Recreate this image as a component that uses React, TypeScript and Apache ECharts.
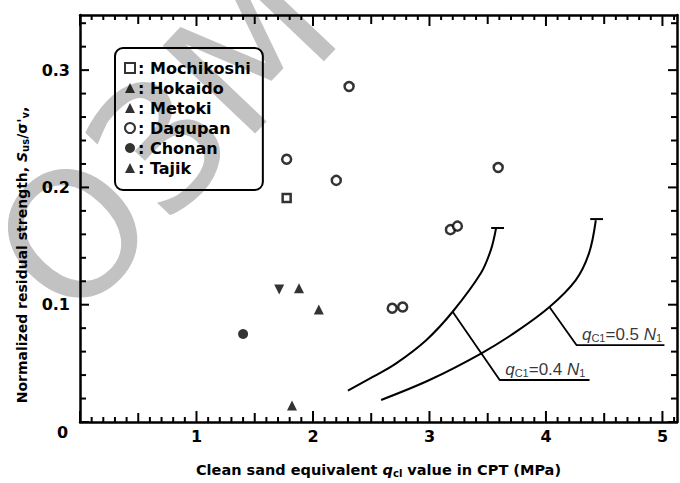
import React, { useEffect, useRef } from "react";
import * as echarts from "echarts";

// ---- data ----
const mochikoshi: number[][] = [[1.774, 0.191]];
const hokaido: number[][] = [[1.88, 0.114]];
const metoki: number[][] = [[1.71, 0.113]];
const dagupan: number[][] = [
  [1.774, 0.224], [2.2, 0.206], [2.31, 0.286], [3.59, 0.217],
  [3.18, 0.164], [3.24, 0.167], [2.68, 0.097], [2.77, 0.098],
];
const chonan: number[][] = [[1.4, 0.075]];
const tajik: number[][] = [[2.05, 0.096], [1.82, 0.014]];

const curve04: number[][] = [
  [2.3, 0.0267], [2.517, 0.0386], [2.714, 0.05], [2.974, 0.07],
  [3.199, 0.094], [3.442, 0.127], [3.528, 0.147], [3.571, 0.165],
];
const curve05: number[][] = [
  [2.585, 0.0188], [3.0, 0.0358], [3.446, 0.0586], [3.745, 0.077],
  [4.03, 0.098], [4.256, 0.121], [4.37, 0.144], [4.428, 0.172],
];
const cap04: number[][] = [[3.53, 0.1654], [3.64, 0.1654]];
const cap05: number[][] = [[4.38, 0.173], [4.49, 0.173]];
const leader04: number[][] = [[3.199, 0.094], [3.603, 0.0358], [4.374, 0.0358]];
const leader05: number[][] = [[4.03, 0.098], [4.262, 0.0656], [5.017, 0.0656]];
const labelAnchors: number[][] = [[3.603, 0.0358], [4.262, 0.0656]];
const labelValues: string[] = ["0.4", "0.5"];

const xMax = 5.125;
const yMax = 0.347;
const FONT = "DejaVu Sans";

// tick marks pointing into the plot: x every 0.1 (bottom = 0, top = 1), y every 0.02 (left = 2, right = 3)
const xTickSteps: number[] = Array.from({ length: 52 }, (_, i) => i);
const yTickSteps: number[] = Array.from({ length: 18 }, (_, i) => i);
const tickData: number[][] = [];
xTickSteps.forEach((i) => {
  const len = i % 10 === 0 ? 11 : i % 5 === 0 ? 9 : 5;
  tickData.push([i / 10, len, 0], [i / 10, len, 1]);
});
yTickSteps.forEach((i) => {
  const len = i % 5 === 0 ? 9 : 6;
  tickData.push([i * 0.02, len, 2], [i * 0.02, len, 3]);
});

const mkX = (pos: string, labels: boolean) => ({
  type: "value",
  position: pos,
  min: 0,
  max: xMax,
  interval: 0.5,
  axisLine: { show: true, onZero: false, lineStyle: { color: "#000", width: 2.5 } },
  axisTick: { show: false },
  minorTick: { show: false },
  splitLine: { show: false },
  axisLabel: {
    show: labels,
    margin: 6,
    color: "#000",
    fontFamily: FONT,
    fontWeight: "bold",
    fontSize: 16,
    formatter: (v: number) => (Math.abs(v - Math.round(v)) < 1e-6 && v > 0 ? String(Math.round(v)) : ""),
  },
});

const mkY = (pos: string, labels: boolean) => ({
  type: "value",
  position: pos,
  min: 0,
  max: yMax,
  interval: 0.1,
  axisLine: { show: true, onZero: false, lineStyle: { color: "#000", width: 2.5 } },
  axisTick: { show: false },
  minorTick: { show: false },
  splitLine: { show: false },
  axisLabel: {
    show: labels,
    margin: 10,
    color: "#000",
    fontFamily: FONT,
    fontWeight: "bold",
    fontSize: 16,
    formatter: (v: number) =>
      v > 0 && Math.abs(v * 10 - Math.round(v * 10)) < 1e-6 ? v.toFixed(1) : "",
  },
});

const markerStyle = { color: "#fff", borderColor: "#000", borderWidth: 2.5 };
const solidStyle = { color: "#000" };
const lineSeries = (data: any[]) => ({
  type: "line",
  data,
  smooth: 0.35,
  symbol: "none",
  lineStyle: { color: "#000", width: 2 },
  silent: true,
  z: 3,
});

const baseGraphic: any[] = [
  {
    type: "text",
    z: -10,
    silent: true,
    x: -36,
    y: 225,
    rotation: 0.81,
    style: { text: "ОЗМ", fill: "#c2c2c2", font: "175px 'DejaVu Sans'" },
  },
  {
    type: "text",
    left: 57,
    top: 424,
    style: { text: "0", fill: "#000", font: "bold 16px 'DejaVu Sans'" },
  },
  {
    type: "text",
    x: 22,
    y: 255,
    rotation: Math.PI / 2,
    style: {
      text: "Normalized residual strength, {i|S}{sub|us}/σ'{sub|v},",
      align: "center",
      verticalAlign: "middle",
      fill: "#000",
      font: "bold 14px 'DejaVu Sans'",
      rich: {
        i: { fontFamily: FONT, fontWeight: "bold", fontStyle: "italic", fontSize: 14, fill: "#000" },
        sub: { fontFamily: FONT, fontWeight: "bold", fontSize: 10, fill: "#000", padding: [6, 0, 0, 0] },
      },
    },
  },
];

export default function App() {
  const ref = useRef<HTMLDivElement>(null);
  useEffect(() => {
    if (!ref.current) return;
    const chart = echarts.init(ref.current, null, { renderer: "svg" });
    const option: any = {
      animation: false,
      backgroundColor: "#fff",
      grid: { left: 80, right: 2, top: 15, bottom: 61, containLabel: false },
      xAxis: [
        {
          ...mkX("bottom", true),
          name: "Clean sand equivalent {i|q}{sub|cl} value in CPT (MPa)",
          nameLocation: "middle",
          nameGap: 40,
          nameTextStyle: {
            color: "#000",
            fontFamily: FONT,
            fontWeight: "bold",
            fontSize: 14.5,
            rich: {
              i: { fontFamily: FONT, fontWeight: "bold", fontStyle: "italic", fontSize: 14.5, color: "#000" },
              sub: { fontFamily: FONT, fontWeight: "bold", fontSize: 10, color: "#000", verticalAlign: "bottom", padding: [6, 0, 0, 0] },
            },
          },
        },
        mkX("top", false),
      ],
      yAxis: [mkY("left", true), mkY("right", false)],
      legend: {
        show: true,
        orient: "vertical",
        left: 115,
        top: 48,
        padding: [12, 12, 14, 9],
        itemWidth: 10,
        itemHeight: 10,
        itemGap: 4,
        borderColor: "#000",
        borderWidth: 2,
        borderRadius: 8,
        backgroundColor: "transparent",
        data: ["Mochikoshi", "Hokaido", "Metoki", "Dagupan", "Chonan", "Tajik"],
        formatter: (name: string) => ": " + name,
        textStyle: { color: "#000", fontFamily: FONT, fontWeight: "bold", fontSize: 16, lineHeight: 16, padding: [0, 0, 0, -2] },
      },
      graphic: baseGraphic,
      series: [
        { name: "Mochikoshi", type: "scatter", data: mochikoshi, symbol: "rect", symbolSize: 8, itemStyle: markerStyle, z: 5 },
        { name: "Hokaido", type: "scatter", data: hokaido, symbol: "triangle", symbolSize: 10, itemStyle: solidStyle, z: 5 },
        { name: "Metoki", type: "scatter", data: metoki, symbol: "triangle", symbolRotate: 180, symbolSize: 10, itemStyle: solidStyle, z: 5 },
        { name: "Dagupan", type: "scatter", data: dagupan, symbol: "circle", symbolSize: 9, itemStyle: markerStyle, z: 5 },
        { name: "Chonan", type: "scatter", data: chonan, symbol: "circle", symbolSize: 10, itemStyle: solidStyle, z: 5 },
        { name: "Tajik", type: "scatter", data: tajik, symbol: "triangle", symbolSize: 10, itemStyle: solidStyle, z: 5 },
        lineSeries(curve04),
        lineSeries(curve05),
        { ...lineSeries(cap04), smooth: false },
        { ...lineSeries(cap05), smooth: false },
        { ...lineSeries(leader04), smooth: false, lineStyle: { color: "#000", width: 1.8 } },
        { ...lineSeries(leader05), smooth: false, lineStyle: { color: "#000", width: 1.8 } },
        {
          type: "scatter",
          silent: true,
          symbolSize: 1,
          itemStyle: { color: "rgba(0,0,0,0)" },
          data: labelAnchors.map((p, i) => ({
            value: p,
            label: {
              show: true,
              position: [6, -1],
              align: "left",
              verticalAlign: "bottom",
              formatter: "{i|q}{sub|C1}{t|=" + labelValues[i] + " }{i|N}{sub|1}",
              rich: {
                i: { fontFamily: "Liberation Sans", fontStyle: "italic", fontSize: 17, color: "#000" },
                t: { fontFamily: "Liberation Sans", fontSize: 17, color: "#000" },
                sub: { fontFamily: "Liberation Sans", fontSize: 11, color: "#000", padding: [7, 0, 0, 0] },
              },
            },
          })),
        },
      ],
    };
    chart.setOption(option);

    // tick marks placed through the chart's own scales
    try {
      const px = (x: number, y: number) =>
        chart.convertToPixel({ xAxisIndex: 0, yAxisIndex: 0 } as any, [x, y]) as unknown as number[];
      const tickEls: any[] = [];
      tickData.forEach(([v, len, side]) => {
        let p: number[];
        let q: number[];
        if (side === 0) {
          p = px(v, 0);
          q = [p[0], p[1] - len];
        } else if (side === 1) {
          p = px(v, yMax);
          q = [p[0], p[1] + len];
        } else if (side === 2) {
          p = px(0, v);
          q = [p[0] + len, p[1]];
        } else {
          p = px(xMax, v);
          q = [p[0] - len, p[1]];
        }
        if (!p || !isFinite(p[0]) || !isFinite(p[1])) return;
        tickEls.push({
          type: "line",
          silent: true,
          z: 10,
          shape: { x1: p[0], y1: p[1], x2: q[0], y2: q[1] },
          style: { stroke: "#000", lineWidth: 2 },
        });
      });
      chart.setOption({ graphic: baseGraphic.concat(tickEls) });
    } catch (e) {
      // keep the chart without ticks if conversion fails
    }
    return () => chart.dispose();
  }, []);
  return <div ref={ref} style={{ width: 680, height: 483, position: "absolute", left: 0, top: 0 }} />;
}
